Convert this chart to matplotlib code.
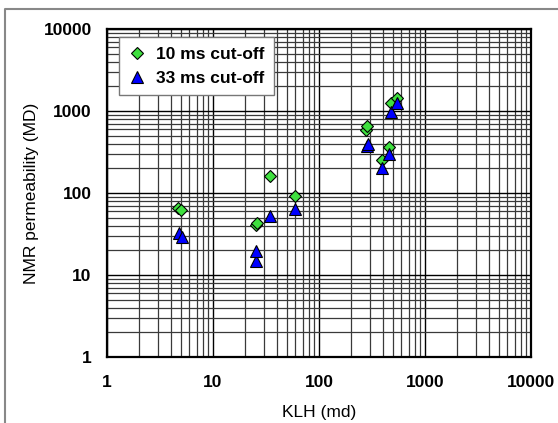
import matplotlib

matplotlib.use("Agg")
import matplotlib.pyplot as plt
from matplotlib.lines import Line2D
from matplotlib.ticker import LogLocator, FixedLocator, NullFormatter

plt.rcParams["font.family"] = ["Liberation Sans", "DejaVu Sans"]

# KLH (md) vs NMR permeability (MD)
klh_10ms = [4.7, 5.0, 25.5, 26.0, 34.7, 59.4, 277, 282, 389, 458, 474, 548]
nmr_10ms = [65, 62, 41, 43.5, 161, 93, 586, 656, 253, 367, 1262, 1429]

klh_33ms = [4.8, 5.07, 25.3, 25.6, 34.5, 59.4, 282, 290, 395, 458, 483, 550]
nmr_33ms = [32.3, 29.3, 14.8, 19.8, 52.9, 63.8, 374, 400, 203, 296, 980, 1250]

axis_ticks = [1, 10, 100, 1000, 10000]
tick_labels = ["1", "10", "100", "1000", "10000"]

green = "#3fe03f"
blue = "#0000ff"

fig = plt.figure(figsize=(5.58, 4.23), dpi=100)
ax = fig.add_axes([107 / 558, 1 - 357 / 423, 424 / 558, 328 / 423])

ax.set_xscale("log")
ax.set_yscale("log")
ax.set_xlim(1, 10000)
ax.set_ylim(1, 10000)

ax.xaxis.set_major_locator(FixedLocator(axis_ticks))
ax.yaxis.set_major_locator(FixedLocator(axis_ticks))
ax.set_xticklabels(tick_labels)
ax.set_yticklabels(tick_labels)
ax.xaxis.set_minor_locator(LogLocator(base=10, subs=range(2, 10)))
ax.yaxis.set_minor_locator(LogLocator(base=10, subs=range(2, 10)))
ax.xaxis.set_minor_formatter(NullFormatter())
ax.yaxis.set_minor_formatter(NullFormatter())

ax.grid(True, which="major", color="black", linewidth=1.0)
ax.grid(True, which="minor", color="#3a3a3a", linewidth=0.9)
ax.set_axisbelow(True)

ax.tick_params(which="both", length=0)
ax.tick_params(axis="x", pad=13, labelsize=12.5)
ax.tick_params(axis="y", pad=11, labelsize=12.5)
for lab in ax.get_xticklabels() + ax.get_yticklabels():
    lab.set_fontweight("bold")

for s in ax.spines.values():
    s.set_linewidth(1.6)
    s.set_color("black")

ax.plot(klh_10ms, nmr_10ms, linestyle="none", marker="D", markersize=6.3,
        markerfacecolor=green, markeredgecolor="black", markeredgewidth=0.8,
        label="10 ms cut-off", zorder=3)
ax.plot(klh_33ms, nmr_33ms, linestyle="none", marker="^", markersize=8,
        markerfacecolor=blue, markeredgecolor="black", markeredgewidth=0.8,
        label="33 ms cut-off", zorder=4)

ax.set_xlabel("KLH (md)", fontsize=12.5, labelpad=11)
ax.set_ylabel("NMR permeability (MD)", fontsize=12.5, labelpad=3)

leg = ax.legend(loc="upper left", bbox_to_anchor=(0.0276, 0.975), borderaxespad=0,
                fancybox=False, framealpha=1, edgecolor="#777777",
                prop={"size": 12.5, "weight": "bold"}, handlelength=1.0,
                handletextpad=0.6, labelspacing=0.5, borderpad=0.55)
leg.get_frame().set_linewidth(1.0)

# outer gray border (top and left visible)
fig.add_artist(Line2D([5 / 558, 5 / 558, 1.0], [0.0, 1 - 9.5 / 423, 1 - 9.5 / 423],
                      transform=fig.transFigure, color="#888888", linewidth=1.5))

fig.savefig("out.png", dpi=100)
